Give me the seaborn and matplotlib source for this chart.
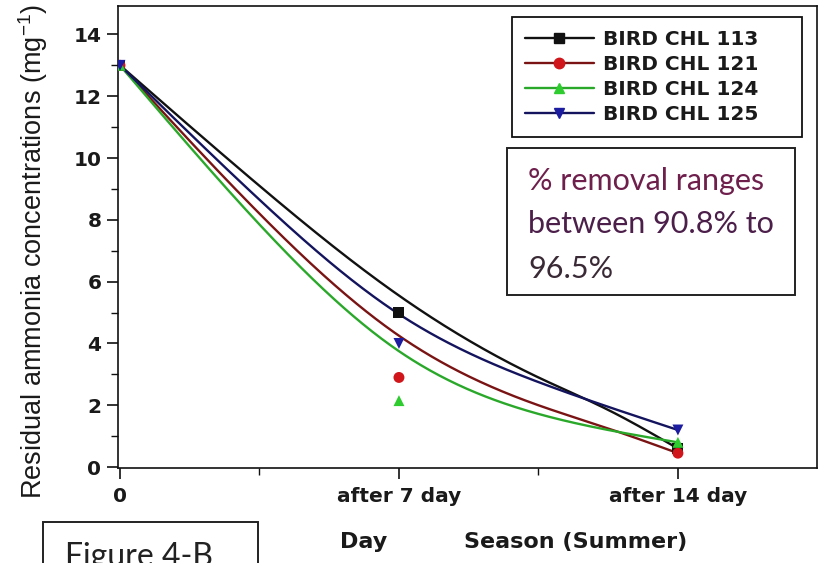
import numpy as np
import pandas as pd
import matplotlib
matplotlib.use("Agg")
import matplotlib.pyplot as plt
import seaborn as sns
from matplotlib.lines import Line2D
from matplotlib.patches import Rectangle

# Measured residual ammonia (mg l-1) per strain at each sampling day
strains = ["BIRD CHL 113", "BIRD CHL 121", "BIRD CHL 124", "BIRD CHL 125"]
days = [0, 7, 14]
chl113 = [13.0, 5.0, 0.6]
chl121 = [13.0, 2.9, 0.45]
chl124 = [13.0, 2.15, 0.8]
chl125 = [13.0, 4.0, 1.2]

# Smoothed trend curves (values at the trend knots)
trend_days = [0, 3.5, 7, 10.5, 12.25, 14]
trend113 = [13.0, 9.1, 5.55, 2.9, 1.85, 0.6]
trend121 = [13.0, 8.2, 4.25, 2.0, 1.25, 0.45]
trend124 = [13.0, 7.85, 3.75, 1.72, 1.2, 0.8]
trend125 = [13.0, 8.65, 4.95, 2.75, 1.95, 1.2]

x_tick_pos = [0, 7, 14]
x_tick_labels = ["0", "after 7 day", "after 14 day"]

line_colors = ["#111111", "#7a1414", "#2aa82a", "#14145e"]
marker_colors = ["#111111", "#d0161b", "#2ecc2e", "#1c1ca0"]
marker_shapes = ["s", "o", "^", "v"]


def natural_spline(xk, yk, xs):
    """Natural cubic spline through the knots, evaluated at xs."""
    xk = np.asarray(xk, float)
    yk = np.asarray(yk, float)
    n = len(xk)
    h = np.diff(xk)
    A = np.zeros((n, n))
    r = np.zeros(n)
    A[0, 0] = A[-1, -1] = 1.0
    for i in range(1, n - 1):
        A[i, i - 1] = h[i - 1]
        A[i, i] = 2 * (h[i - 1] + h[i])
        A[i, i + 1] = h[i]
        r[i] = 3 * ((yk[i + 1] - yk[i]) / h[i] - (yk[i] - yk[i - 1]) / h[i - 1])
    c = np.linalg.solve(A, r)
    b = (yk[1:] - yk[:-1]) / h - h * (2 * c[:-1] + c[1:]) / 3
    d = (c[1:] - c[:-1]) / (3 * h)
    idx = np.clip(np.searchsorted(xk, xs) - 1, 0, n - 2)
    t = xs - xk[idx]
    return yk[idx] + b[idx] * t + c[idx] * t**2 + d[idx] * t**3


sns.set_style("ticks")
plt.rcParams["mathtext.fontset"] = "custom"
plt.rcParams["mathtext.rm"] = "Liberation Sans"
plt.rcParams["mathtext.it"] = "Liberation Sans:italic"

fig = plt.figure(figsize=(8.18, 5.63), dpi=100)
ax = fig.add_axes([118 / 818, 95 / 563, 699 / 818, 462 / 563])

# long tables for seaborn
measured = pd.DataFrame({
    "day": days * 4,
    "conc": chl113 + chl121 + chl124 + chl125,
    "strain": np.repeat(strains, len(days)),
})

dense = np.linspace(0, 14, 300)
curve_frames = []
for name, knots in zip(strains, [trend113, trend121, trend124, trend125]):
    curve_frames.append(pd.DataFrame({"day": dense,
                                      "conc": natural_spline(trend_days, knots, dense),
                                      "strain": name}))
curves = pd.concat(curve_frames, ignore_index=True)

sns.lineplot(data=curves, x="day", y="conc", hue="strain", hue_order=strains,
             palette=dict(zip(strains, line_colors)), estimator=None, sort=False,
             linewidth=1.7, legend=False, ax=ax)
sns.scatterplot(data=measured, x="day", y="conc", hue="strain", hue_order=strains,
                style="strain", style_order=strains,
                markers=dict(zip(strains, marker_shapes)),
                palette=dict(zip(strains, marker_colors)),
                s=62, linewidth=0, legend=False, ax=ax, zorder=5)

ax.set_xlim(-0.05, 17.49)
ax.set_ylim(-0.03, 14.92)
ax.set_xticks(x_tick_pos)
ax.set_xticklabels(x_tick_labels)
ax.set_xticks([3.5, 10.5], minor=True)
ax.set_yticks(np.arange(0, 15, 2))
ax.set_yticks(np.arange(1, 15, 2), minor=True)
ax.set_xlabel("")
ax.set_ylabel("")

for side in ["left", "right", "top", "bottom"]:
    ax.spines[side].set_visible(True)
    ax.spines[side].set_linewidth(1.2)
    ax.spines[side].set_color("#111111")

ax.tick_params(axis="both", which="major", direction="out", length=8, width=1.2,
               colors="#111111")
ax.tick_params(axis="both", which="minor", direction="out", length=5, width=1.0,
               colors="#111111")
ax.tick_params(axis="x", pad=6)
ax.tick_params(axis="y", pad=4)
for lab in ax.get_xticklabels() + ax.get_yticklabels():
    lab.set_fontfamily("DejaVu Sans")
    lab.set_fontweight("bold")
    lab.set_fontsize(14.5)
    lab.set_color("#1a1a1a")

# legend
handles = [Line2D([], [], color=lc, marker=m, markerfacecolor=mc, markeredgecolor=mc,
                  markersize=7.5, linewidth=1.7)
           for lc, mc, m in zip(line_colors, marker_colors, marker_shapes)]
leg = ax.legend(handles, strains, loc="upper left",
                bbox_to_anchor=(512 / 818, 1 - 17 / 563, 290 / 818, 0.0),
                bbox_transform=fig.transFigure, mode="expand", borderaxespad=0,
                prop={"family": "DejaVu Sans", "weight": "bold", "size": 14.5},
                handlelength=3.4, handletextpad=0.45, labelspacing=0.3,
                borderpad=0.65, fancybox=False, framealpha=1, edgecolor="#111111")
leg.get_frame().set_linewidth(1.3)
for t in leg.get_texts():
    t.set_color("#1a1a1a")

# y axis title
fig.text(33 / 818, 1 - 252 / 563, "Residual ammonia concentrations (mg$^{-1}$)",
         rotation=90, ha="center", va="center", fontsize=19.5,
         family="Liberation Sans", color="#1a1a1a")

# x axis titles
fig.text(340 / 818, 1 - 542 / 563, "Day", ha="left", va="center",
         family="DejaVu Sans", weight="bold", fontsize=16, color="#1a1a1a")
fig.text(464 / 818, 1 - 542 / 563, "Season (Summer)", ha="left", va="center",
         family="DejaVu Sans", weight="bold", fontsize=16, color="#1a1a1a")

# removal note box
fig.patches.append(Rectangle((507 / 818, 1 - 295 / 563), 288 / 818, 147 / 563,
                             transform=fig.transFigure, fill=True, facecolor="white",
                             edgecolor="#222222", linewidth=1.4, zorder=3))
note_lines = ["% removal ranges", "between 90.8% to", "96.5%"]
note_colors = ["#6e1f4c", "#4c1f4a", "#3a2a35"]
for txt, col, base in zip(note_lines, note_colors, [190, 233, 278]):
    fig.text(528 / 818, 1 - base / 563, txt, ha="left", va="baseline",
             family="Lato", fontsize=22, color=col, zorder=4)

# figure tag box, running off the bottom edge
fig.patches.append(Rectangle((43 / 818, -0.1), 215 / 818, 0.1 + 1 - 522 / 563,
                             transform=fig.transFigure, fill=False,
                             edgecolor="#222222", linewidth=1.4))
fig.text(65 / 818, 1 - 566 / 563, "Figure 4-B", ha="left", va="baseline",
         family="Lato", fontsize=23, color="#222222")

fig.savefig("out.png", dpi=100)
